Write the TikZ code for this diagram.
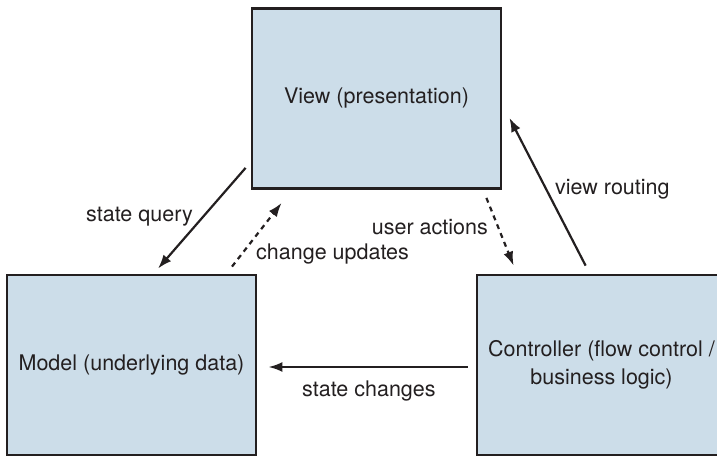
\documentclass[tikz,border=0pt]{standalone}
\usepackage{fontspec}
\setmainfont{TeX Gyre Heros}
\usetikzlibrary{arrows.meta,calc}
\definecolor{boxfill}{HTML}{CCDDE9}
\definecolor{ink}{HTML}{231F20}
\begin{document}
\begin{tikzpicture}[x=1pt,y=1pt,
  box/.style={draw=ink,fill=boxfill,line width=2.8pt,minimum width=249pt,minimum height=180pt,
    inner sep=0pt,text=ink,align=center,font=\fontsize{21.5}{28}\selectfont},
  lbl/.style={text=ink,inner sep=0pt,font=\fontsize{21.5}{25}\selectfont},
  conn/.style={draw=ink,line width=2.2pt,-{Latex[length=14pt,width=10pt]}},
  dotconn/.style={conn,dash pattern=on 5pt off 4.5pt}]
\clip (0,0) rectangle (717,455);
\useasboundingbox (0,0) rectangle (717,455);
\node[box] (view) at (376.5,356.5) {View (presentation)};
\node[box] (model) at (131.5,90) {Model (underlying data)};
\node[box] (ctrl) at (601.5,90) {Controller (flow control /\\business logic)};
% state query
\draw[conn] ($(view.south west)+(-5,22)$) -- ($(model.north)+(26.5,5)$);
% change updates
\draw[dotconn] ($(model.north)+(100.5,7)$) -- ($(view.south west)+(31,-13)$);
% user actions
\draw[dotconn] ($(view.south east)+(-16,-8)$) -- ($(ctrl.north west)+(38,8)$);
% view routing
\draw[conn] ($(ctrl.north west)+(110,8)$) -- ($(view.south east)+(7,72)$);
% state changes
\draw[conn] ($(ctrl.west)+(-8,-2)$) -- ($(model.east)+(11,-2)$);
\node[lbl,anchor=base east] (lq) at (193,233) {state query};
\node[lbl,anchor=base west] (lc) at (256,195) {change updates};
\node[lbl,anchor=base east] (lu) at (488,220) {user actions};
\node[lbl,anchor=base west] (lr) at (555,260) {view routing};
\node[lbl,anchor=base west] (ls) at (302,58) {state changes};
\end{tikzpicture}
\end{document}
